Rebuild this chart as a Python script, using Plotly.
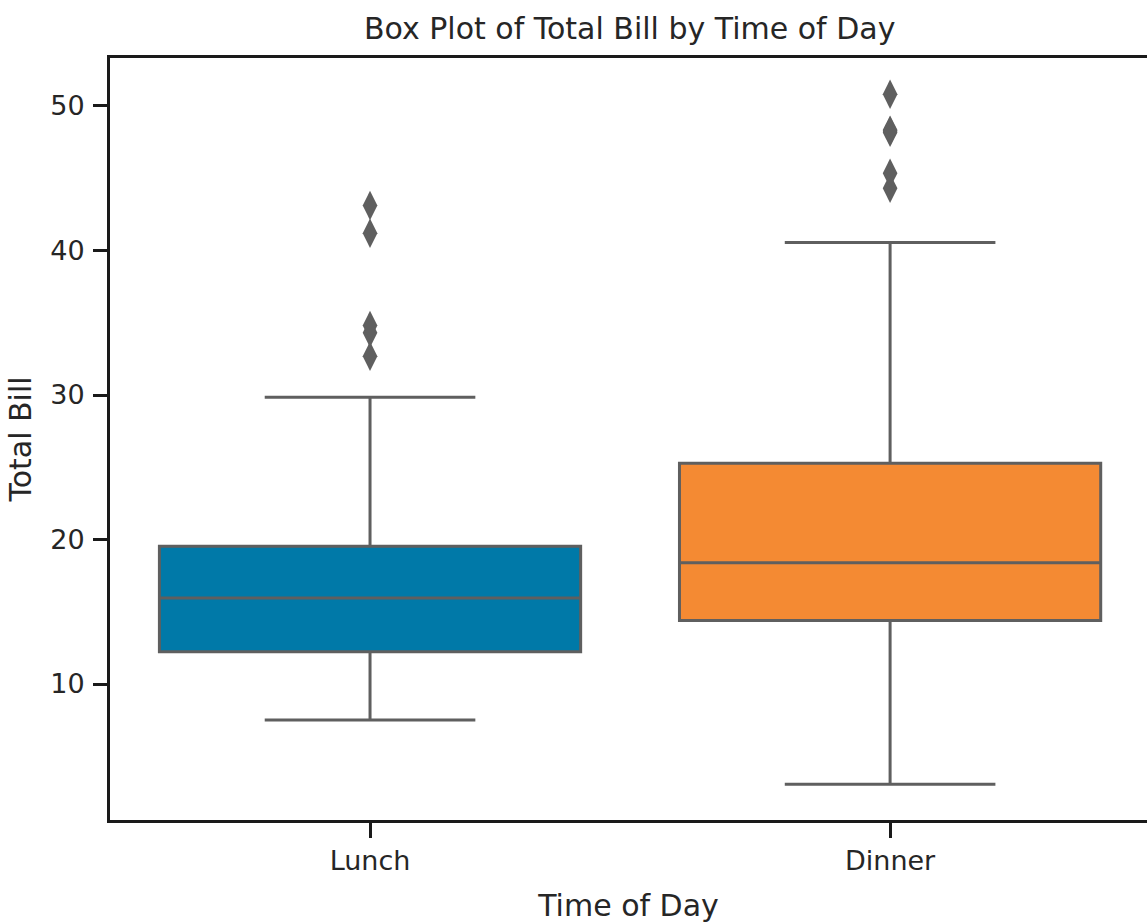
import plotly.graph_objects as go

# ---- data ----
categories = ["Lunch", "Dinner"]
q1 = [12.23, 14.40]
median = [15.96, 18.39]
q3 = [19.53, 25.28]
lower_whisker = [7.51, 3.07]
upper_whisker = [29.85, 40.55]
lunch_outliers = [32.68, 34.30, 34.81, 41.19, 43.11]
dinner_outliers = [44.30, 45.35, 48.17, 48.27, 48.33, 50.81]
box_colors = ["#0079A8", "#F48A33"]

y_ticks = [10, 20, 30, 40, 50]

LINE = "#5f5f5f"
FONT = "DejaVu Sans"
TXT = "#262626"

fig = go.Figure()
for i, cat in enumerate(categories):
    fig.add_trace(go.Box(
        x=[cat], q1=[q1[i]], median=[median[i]], q3=[q3[i]],
        lowerfence=[lower_whisker[i]], upperfence=[upper_whisker[i]],
        fillcolor=box_colors[i], line=dict(color=LINE, width=3),
        width=0.81, whiskerwidth=0.5, boxpoints=False, showlegend=False,
        hoverinfo="skip",
    ))

for cat, outs in zip(categories, [lunch_outliers, dinner_outliers]):
    fig.add_trace(go.Scatter(
        x=[cat] * len(outs), y=outs, mode="markers",
        marker=dict(symbol="diamond-tall", size=21, color=LINE,
                    line=dict(width=0)),
        showlegend=False, hoverinfo="skip",
    ))

fig.update_layout(
    width=1147, height=924,
    paper_bgcolor="white", plot_bgcolor="white",
    margin=dict(l=110, r=0, t=58, b=104),
    boxmode="overlay",
    font=dict(family=FONT, color=TXT),
    title=dict(text="Box Plot of Total Bill by Time of Day",
               font=dict(size=30, family=FONT, color=TXT),
               xref="container", x=0.549, xanchor="center",
               yref="container", y=1 - 28 / 924, yanchor="middle"),
)

fig.update_xaxes(
    type="category", categoryorder="array", categoryarray=categories,
    range=[-0.5, 1.494],
    showline=True, linecolor="#1a1a1a", linewidth=3, mirror=True,
    ticks="outside", ticklen=15, tickwidth=3, tickcolor="#1a1a1a",
    tickfont=dict(size=27, family=FONT, color=TXT),
    ticklabelstandoff=0,
    showgrid=False, zeroline=False,
    title=dict(text="Time of Day", font=dict(size=30, family=FONT, color=TXT),
               standoff=20),
)
fig.update_yaxes(
    range=[0.59, 53.32],
    tickvals=y_ticks,
    showline=True, linecolor="#1a1a1a", linewidth=3, mirror=False,
    ticks="outside", ticklen=14, tickwidth=3, tickcolor="#1a1a1a",
    tickfont=dict(size=27, family=FONT, color=TXT),
    ticklabelstandoff=3,
    showgrid=False, zeroline=False,
    title=dict(text="Total Bill", font=dict(size=30, family=FONT, color=TXT),
               standoff=10),
)

fig.write_html("out.html", config={"displayModeBar": False},
               post_script="document.body.style.margin='0px';")
